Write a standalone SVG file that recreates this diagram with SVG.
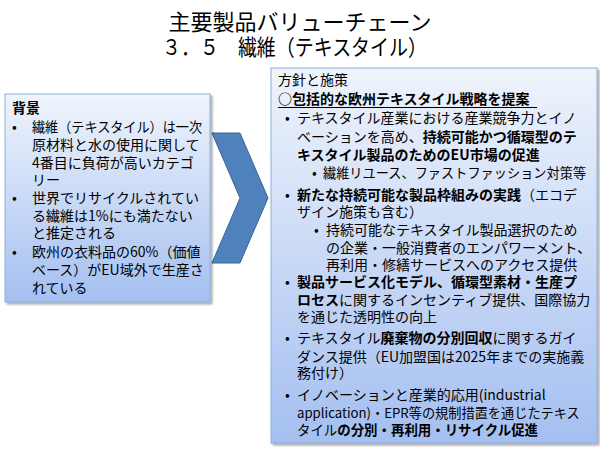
<svg xmlns="http://www.w3.org/2000/svg" width="600" height="450" viewBox="0 0 600 450">
<defs>
<linearGradient id="boxGrad" x1="0" y1="0" x2="0" y2="1">
<stop offset="0" stop-color="#eff4fc"/>
<stop offset="1" stop-color="#a4bff0"/>
</linearGradient>
<filter id="shadow" x="-5%" y="-5%" width="110%" height="110%">
<feGaussianBlur in="SourceAlpha" stdDeviation="1.2"/>
<feOffset dx="1.5" dy="2" result="b"/>
<feComponentTransfer><feFuncA type="linear" slope="0.35"/></feComponentTransfer>
<feMerge><feMergeNode/><feMergeNode in="SourceGraphic"/></feMerge>
</filter>
</defs>
<style>
text{font-family:"Noto Sans CJK JP","Noto Sans",sans-serif;fill:#000;}
.title{font-size:22px;}
.t{font-size:14px;}
.s{font-size:13.2px;}
.b{font-weight:bold;}
.box{fill:url(#boxGrad);stroke:#8eaedb;stroke-width:1;filter:url(#shadow);}
</style>
<rect width="600" height="450" fill="#ffffff"/>
<g id="title">
<text class="title" x="300" y="30" text-anchor="middle">主要製品バリューチェーン</text>
<text class="title" x="294.5" y="55" text-anchor="middle" textLength="265" lengthAdjust="spacingAndGlyphs">３．５　繊維（テキスタイル）</text>
</g>
<g id="connectors">
<path d="M212,133 L240,133 L268,198 L240,263 L212,263 L240,198 Z" fill="#4f81bd" stroke="#3a6595" stroke-width="1"/>
</g>
<g id="background-box">
<rect class="box" x="5" y="94" width="205" height="208"/>
<text x="12" y="113" class="t b">背景</text>
<text x="12" y="132" class="t">•</text>
<text x="32" y="132" class="t" textLength="170" lengthAdjust="spacingAndGlyphs">繊維（テキスタイル）は一次</text>
<text x="32" y="150" class="t">原材料と水の使用に関して</text>
<text x="32" y="168" class="t">4番目に負荷が高いカテゴ</text>
<text x="32" y="185" class="t">リー</text>
<text x="12" y="203" class="t">•</text>
<text x="32" y="203" class="t">世界でリサイクルされてい</text>
<text x="32" y="221" class="t">る繊維は1%にも満たない</text>
<text x="32" y="238" class="t">と推定される</text>
<text x="12" y="257" class="t">•</text>
<text x="32" y="257" class="t">欧州の衣料品の60%（価値</text>
<text x="32" y="275" class="t">ベース）がEU域外で生産さ</text>
<text x="32" y="293" class="t">れている</text>
</g>
<g id="policy-box">
<rect class="box" x="271" y="68" width="326" height="375"/>
<text x="278" y="85" class="t">方針と施策</text>
<text x="278" y="104" class="t b">○包括的な欧州テキスタイル戦略を提案</text>
<line x1="278" y1="107.5" x2="537" y2="107.5" stroke="#000" stroke-width="1.2"/>
<text x="285" y="123" class="t">•</text>
<text x="297" y="123" class="t">テキスタイル産業における産業競争力とイノ</text>
<text x="297" y="142" class="t">ベーションを高め、<tspan class="b">持続可能かつ循環型のテ</tspan></text>
<text x="297" y="160" class="t b">キスタイル製品のためのEU市場の促進</text>
<text x="312" y="178" class="t">•</text>
<text x="323" y="178" class="s">繊維リユース、ファストファッション対策等</text>
<text x="285" y="200" class="t">•</text>
<text x="297" y="200" class="t"><tspan class="b">新たな持続可能な製品枠組みの実践</tspan>（エコデ</text>
<text x="297" y="217" class="t">ザイン施策も含む）</text>
<text x="314" y="235" class="t">•</text>
<text x="326" y="235" class="t">持続可能なテキスタイル製品選択のため</text>
<text x="326" y="253" class="t">の企業・一般消費者のエンパワーメント、</text>
<text x="326" y="270" class="t">再利用・修繕サービスへのアクセス提供</text>
<text x="285" y="287" class="t">•</text>
<text x="297" y="287" class="t b">製品サービス化モデル、循環型素材・生産プ</text>
<text x="297" y="305" class="t"><tspan class="b">ロセス</tspan>に関するインセンティブ提供、国際協力</text>
<text x="297" y="322" class="t">を通じた透明性の向上</text>
<text x="285" y="343" class="t">•</text>
<text x="297" y="343" class="t">テキスタイル<tspan class="b">廃棄物の分別回収</tspan>に関するガイ</text>
<text x="297" y="362" class="t">ダンス提供（EU加盟国は2025年までの実施義</text>
<text x="297" y="378" class="t">務付け）</text>
<text x="285" y="400" class="t">•</text>
<text x="297" y="400" class="t">イノベーションと産業的応用(industrial</text>
<text x="297" y="418" class="s">application)・EPR等の規制措置を通じたテキス</text>
<text x="297" y="435" class="t" textLength="241" lengthAdjust="spacingAndGlyphs">タイル<tspan class="b">の分別・再利用・リサイクル促進</tspan></text>
</g>
</svg>
